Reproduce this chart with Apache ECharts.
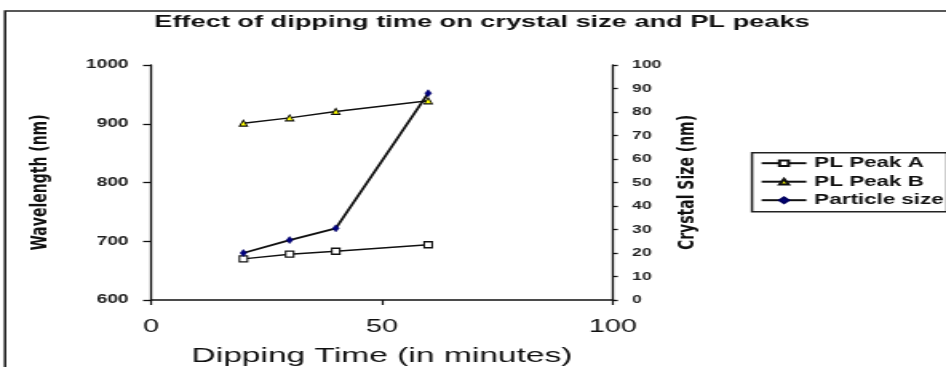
<!DOCTYPE html>
<html>
<head>
<meta charset="utf-8">
<script src="https://cdn.jsdelivr.net/npm/echarts@6/dist/echarts.min.js"></script>
<style>
html,body{margin:0;padding:0;background:#fff;overflow:hidden;}
#c{width:592px;height:367px;transform:scaleX(1.598);transform-origin:0 0;}
</style>
</head>
<body>
<div id="c"></div>
<script>
// ---- data ----
var titleText = 'Effect of dipping time on crystal size and PL peaks';
var xName = 'Dipping Time (in minutes)';
var yLeftName = 'Wavelength (nm)';
var yRightName = 'Crystal Size (nm)';
var seriesNames = ['PL Peak A', 'PL Peak B', 'Particle size'];
var times = [20, 30, 40, 60];
var peakA = [670, 678, 683, 694];
var peakB = [901, 910, 921, 939];
var particle = [20, 25.5, 30.5, 88];
var xTicks = [0, 50, 100];
var yLeftTicks = [600, 700, 800, 900, 1000];
var yRightTicks = [0, 10, 20, 30, 40, 50, 60, 70, 80, 90, 100];

function pairs(xs, ys) { return xs.map(function (x, i) { return [x, ys[i]]; }); }
function plain(v) { return String(v); }

var FONT = '"Liberation Sans", Arial, sans-serif';
var NAMEFONT = '"DejaVu Sans", Verdana, sans-serif';
var chart = echarts.init(document.getElementById('c'), null, {renderer: 'canvas'});
chart.setOption({
  backgroundColor: '#fff',
  animation: false,
  title: {
    text: titleText,
    left: 301.6,
    textAlign: 'center',
    top: 14,
    padding: 0,
    textStyle: {fontFamily: FONT, fontSize: 17, fontWeight: 'bold', color: '#111'}
  },
  graphic: [{
    type: 'rect',
    shape: {x: 3.2, y: 11, width: 700, height: 500},
    style: {fill: null, stroke: '#222', lineWidth: 1.6},
    silent: true
  }],
  legend: {
    orient: 'vertical',
    left: 470.6,
    top: 152.7,
    data: seriesNames,
    itemWidth: 28,
    itemHeight: 7,
    itemGap: 4.5,
    padding: [3.5, 2, 4.5, 5],
    borderColor: '#222',
    borderWidth: 1.5,
    borderRadius: 0,
    backgroundColor: '#fff',
    textStyle: {fontFamily: FONT, fontSize: 14, fontWeight: 'bold', color: '#111', lineHeight: 14}
  },
  grid: {left: 94.5, top: 65, width: 289.1, height: 235, outerBoundsMode: 'none', containLabel: false},
  xAxis: {
    type: 'value',
    min: xTicks[0], max: xTicks[xTicks.length - 1], interval: 50,
    name: xName,
    nameLocation: 'middle',
    nameGap: 46,
    nameMoveOverlap: false,
    nameTextStyle: {fontFamily: FONT, fontSize: 21, color: '#111'},
    axisLine: {show: true, onZero: false, lineStyle: {color: '#111', width: 1.5}},
    axisTick: {show: true, inside: false, length: 5, lineStyle: {color: '#111', width: 1.2}},
    axisLabel: {margin: 18, fontFamily: FONT, fontSize: 18, color: '#111', formatter: plain},
    splitLine: {show: false}
  },
  yAxis: [{
    type: 'value',
    position: 'left',
    min: yLeftTicks[0], max: yLeftTicks[yLeftTicks.length - 1], interval: 100,
    name: yLeftName,
    nameLocation: 'middle',
    nameRotate: 90,
    nameGap: 62,
    nameMoveOverlap: false,
    nameTextStyle: {fontFamily: NAMEFONT, fontSize: 14, fontWeight: 'bold', color: '#111'},
    axisLine: {show: true, lineStyle: {color: '#111', width: 1.3}},
    axisTick: {show: true, inside: false, length: 5, lineStyle: {color: '#111', width: 1.3}},
    axisLabel: {margin: 14, fontFamily: FONT, fontSize: 12, fontWeight: 'bold', color: '#222', formatter: plain},
    splitLine: {show: false}
  }, {
    type: 'value',
    position: 'right',
    min: yRightTicks[0], max: yRightTicks[yRightTicks.length - 1], interval: 10,
    name: yRightName,
    nameLocation: 'middle',
    nameRotate: 90,
    nameGap: 40,
    nameMoveOverlap: false,
    nameTextStyle: {fontFamily: NAMEFONT, fontSize: 14, fontWeight: 'bold', color: '#111'},
    axisLine: {show: true, lineStyle: {color: '#111', width: 1.3}},
    axisTick: {show: true, inside: false, length: 3, lineStyle: {color: '#111', width: 1.3}},
    axisLabel: {margin: 12, fontFamily: FONT, fontSize: 11, fontWeight: 'bold', color: '#222', formatter: plain},
    splitLine: {show: false}
  }],
  series: [{
    name: seriesNames[0],
    type: 'line',
    yAxisIndex: 0,
    data: pairs(times, peakA),
    symbol: 'rect',
    symbolSize: [5, 6],
    itemStyle: {color: '#fff', borderColor: '#111', borderWidth: 1.2},
    lineStyle: {color: '#111', width: 1.5}
  }, {
    name: seriesNames[1],
    type: 'line',
    yAxisIndex: 0,
    data: pairs(times, peakB),
    symbol: 'triangle',
    symbolSize: [5, 6],
    itemStyle: {color: '#ffff00', borderColor: '#111', borderWidth: 1},
    lineStyle: {color: '#111', width: 1.5}
  }, {
    name: seriesNames[2],
    type: 'line',
    yAxisIndex: 1,
    data: pairs(times, particle),
    symbol: 'diamond',
    symbolSize: [4, 7],
    itemStyle: {color: '#000080', borderColor: '#000060', borderWidth: 0.5},
    lineStyle: {color: '#111', width: 1.8}
  }]
});
</script>
</body>
</html>
